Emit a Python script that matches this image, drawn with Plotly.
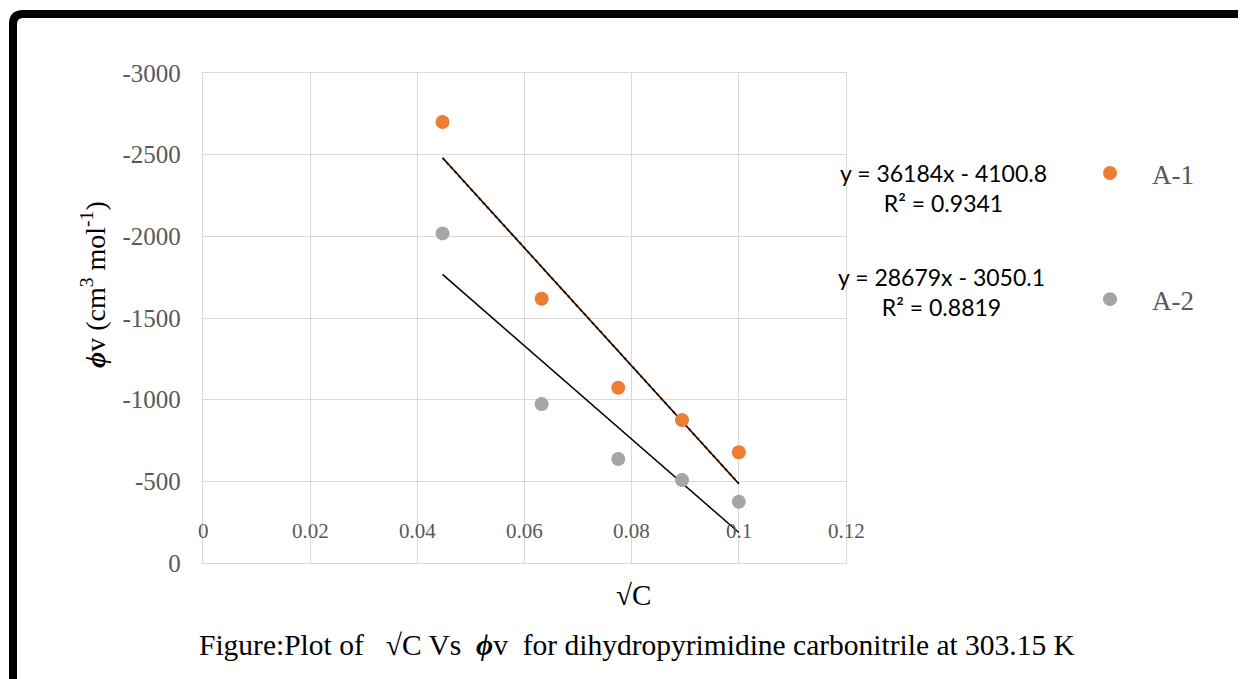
import numpy as np
import plotly.graph_objects as go

# ---- data ----
sqrt_c = [0.0447, 0.0632, 0.0775, 0.0894, 0.1000]
phi_a1 = [-2700, -1618, -1073, -875, -678]
phi_a2 = [-2018, -973, -637, -508, -375]
series_names = ["A-1", "A-2"]
eq_texts = ["y = 36184x - 4100.8<br>R² = 0.9341", "y = 28679x - 3050.1<br>R² = 0.8819"]
x_tick_vals = [0, 0.02, 0.04, 0.06, 0.08, 0.1, 0.12]
x_tick_text = ["0", "0.02", "0.04", "0.06", "0.08", "0.1", "0.12"]
y_tick_vals = [-3000, -2500, -2000, -1500, -1000, -500, 0]
y_tick_text = ["-3000", "-2500", "-2000", "-1500", "-1000", "-500", "0"]

ORANGE = "#ED7D31"
GRAY = "#A5A5A5"
TXT = "#595959"
SERIF = "Liberation Serif, Times New Roman, serif"
CAL = "Lato, Carlito, Calibri, sans-serif"

OFF = 8  # page body margin
W, H = 1246, 679
L, T = 203 - OFF, 73 - OFF
R = W - (846 - OFF)
B = H - (563 - OFF)
pw, ph = W - L - R, H - T - B


def px(v):
    return (v - OFF - L) / pw


def py(v):
    return (H - B - (v - OFF)) / ph


fig = go.Figure()

# trendlines (least squares)
xs = np.array(sqrt_c)
xline = np.array([xs.min(), xs.max()])
for ys, under in [(phi_a1, ORANGE), (phi_a2, None)]:
    m, c = np.polyfit(xs, np.array(ys), 1)
    yline = m * xline + c
    if under:
        fig.add_trace(go.Scatter(x=xline, y=yline, mode="lines", showlegend=False,
                                 line=dict(color=under, width=2.6, dash="dot"), hoverinfo="skip"))
    fig.add_trace(go.Scatter(x=xline, y=yline, mode="lines", showlegend=False,
                             line=dict(color="black", width=1.5), hoverinfo="skip"))

fig.add_trace(go.Scatter(x=sqrt_c, y=phi_a1, mode="markers", name=series_names[0],
                         legendgroup="a1", marker=dict(color=ORANGE, size=14)))
fig.add_trace(go.Scatter(x=sqrt_c, y=phi_a2, mode="markers", name=series_names[1],
                         legendgroup="a2", marker=dict(color=GRAY, size=14)))

fig.update_xaxes(range=[0, 0.12], tickvals=x_tick_vals, showticklabels=False,
                 showgrid=True, gridcolor="#D9D9D9", gridwidth=1.3, zeroline=False,
                 showline=True, linecolor="#D9D9D9", linewidth=1.3, mirror=True, ticks="")
fig.update_yaxes(range=[0, -3000], tickvals=y_tick_vals, ticktext=y_tick_text,
                 tickfont=dict(family=SERIF, size=25, color=TXT),
                 showgrid=True, gridcolor="#D9D9D9", gridwidth=1.3, zeroline=False,
                 showline=True, linecolor="#D9D9D9", linewidth=1.3, mirror=True, ticks="",
                 ticklabelstandoff=16)

# x tick labels drawn just above the 0 line
for v, t in zip(x_tick_vals, x_tick_text):
    fig.add_annotation(x=v, y=-195, xref="x", yref="y", text=t, showarrow=False,
                       font=dict(family=SERIF, size=21, color=TXT), xanchor="center", yanchor="middle")

# equation labels
fig.add_annotation(x=px(943), y=py(188), xref="paper", yref="paper", text=eq_texts[0],
                   xanchor="center", yanchor="middle",
                   showarrow=False, align="center", font=dict(family=CAL, size=23, color="black"))
fig.add_annotation(x=px(941), y=py(292), xref="paper", yref="paper", text=eq_texts[1],
                   xanchor="center", yanchor="middle",
                   showarrow=False, align="center", font=dict(family=CAL, size=23, color="black"))

# axis titles
fig.add_annotation(x=px(93), y=py(285), xref="paper", yref="paper",
                   xanchor="center", yanchor="middle",
                   text="<b><i>ϕ</i></b>v (cm<sup>3</sup> mol<sup>-1</sup>)", textangle=-90,
                   showarrow=False, font=dict(family=SERIF, size=28, color="black"))
fig.add_annotation(x=px(633), y=py(595), xref="paper", yref="paper", text="√C",
                   xanchor="center", yanchor="middle",
                   showarrow=False, font=dict(family=SERIF, size=29, color="black"))
fig.add_annotation(x=px(197), y=py(645), xref="paper", yref="paper", xanchor="left", yanchor="middle",
                   text="Figure:Plot of   √C Vs  <b><i>ϕ</i></b>v  for dihydropyrimidine carbonitrile at 303.15 K",
                   showarrow=False, font=dict(family=SERIF, size=29.5, color="black"))

# frame (left + top thick black)
path = (f"M {px(13)},{py(720)} L {px(13)},{py(24)} Q {px(13)},{py(14)} {px(23)},{py(14)} "
        f"L {px(1290)},{py(14)}")
fig.add_shape(type="path", path=path, xref="paper", yref="paper",
              line=dict(color="black", width=8))

fig.update_layout(
    width=W, height=H, margin=dict(l=L, r=R, t=T, b=B),
    plot_bgcolor="white", paper_bgcolor="white",
    legend=dict(x=px(1068), y=py(149), xanchor="left", yanchor="top",
                font=dict(family=SERIF, size=27, color=TXT), tracegroupgap=88,
                itemwidth=74, bgcolor="rgba(0,0,0,0)"),
    showlegend=True,
)

fig.write_html("out.html")
